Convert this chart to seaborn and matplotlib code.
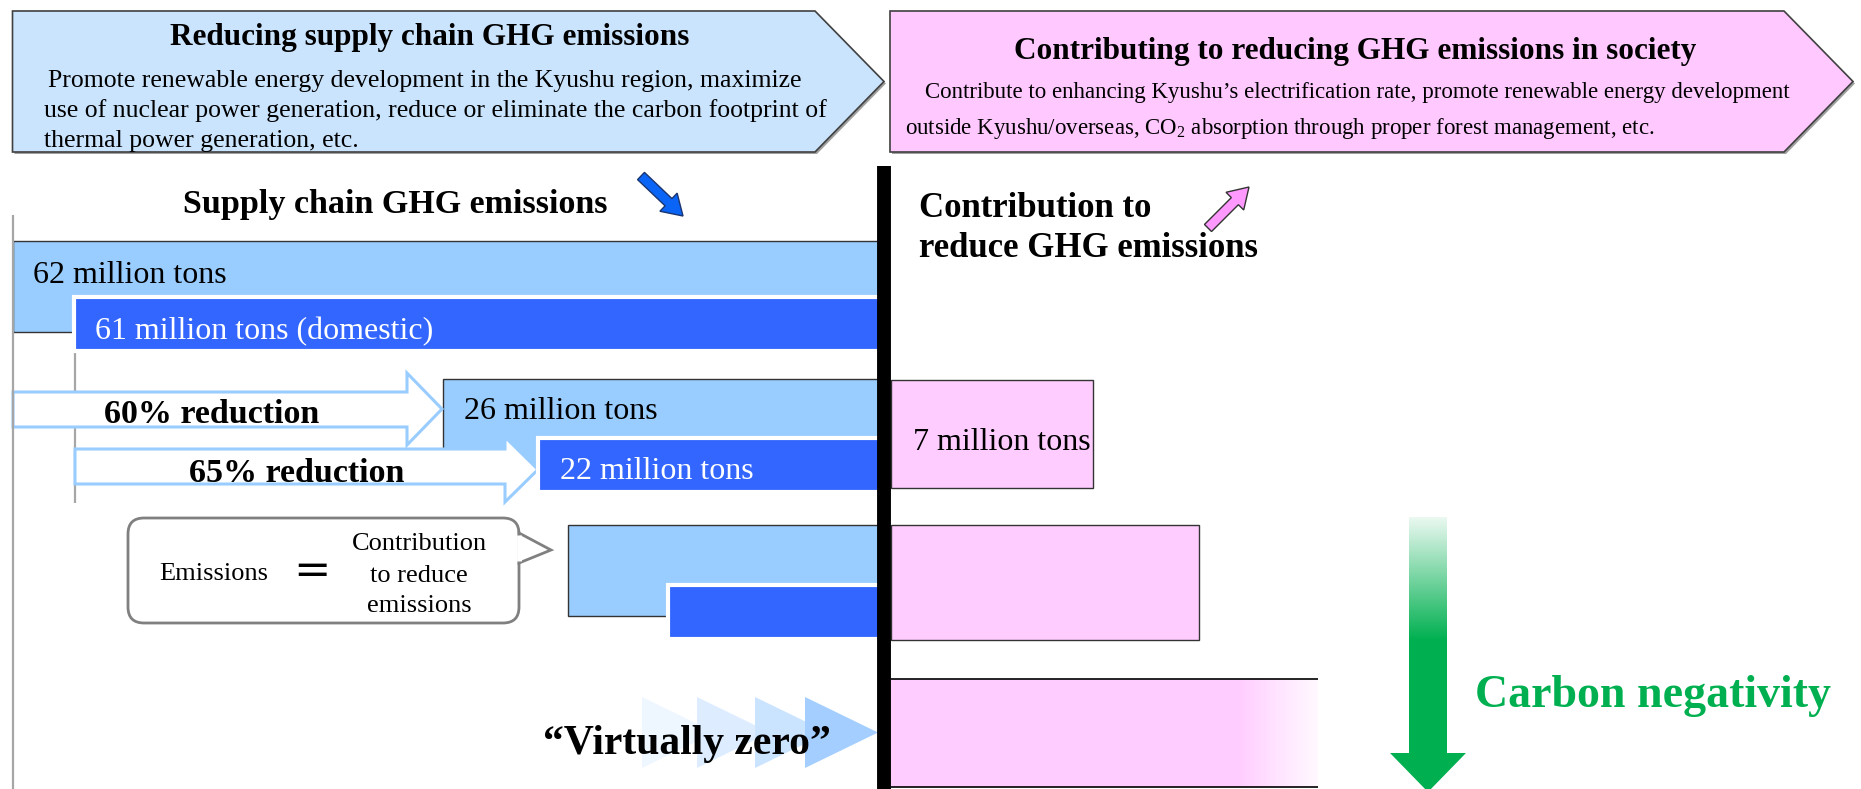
import numpy as np
import matplotlib
matplotlib.use("Agg")
import matplotlib.pyplot as plt
from matplotlib.patches import Polygon, FancyBboxPatch, FancyArrow
import seaborn as sns

sns.set_theme(style="white")
plt.rcParams["font.family"] = ["Liberation Serif", "DejaVu Serif"]
plt.rcParams["text.color"] = "black"
plt.rcParams["mathtext.fontset"] = "custom"
plt.rcParams["mathtext.rm"] = "Liberation Serif"

# ------------------------------------------------------------------ data
banner_titles = ["Reducing supply chain GHG emissions",
                 "Contributing to reducing GHG emissions in society"]
left_banner_lines = [
    "Promote renewable energy development in the Kyushu region, maximize",
    "use of nuclear power generation, reduce or eliminate the carbon footprint of",
    "thermal power generation, etc.",
]
right_banner_lines = [
    "Contribute to enhancing Kyushu\u2019s electrification rate, promote renewable energy development",
    "outside Kyushu/overseas, CO$_2$ absorption through proper forest management, etc.",
]
section_titles = ["Supply chain GHG emissions", "Contribution to\nreduce GHG emissions"]

# supply-chain emission bars (schematic lengths, drawn leftwards from the divider)
supply_labels = ["62 million tons", "61 million tons (domestic)",
                 "26 million tons", "22 million tons", "", ""]
supply_kind = ["total", "domestic", "total", "domestic", "total", "domestic"]
supply_length = [871, 810, 441, 346, 316, 216]

# contribution bars (schematic lengths, drawn rightwards from the divider)
contrib_labels = ["7 million tons", "", ""]
contrib_length = [202, 308, 427]

reduction_labels = ["60% reduction", "65% reduction"]
callout_left = "Emissions"
callout_right = "Contribution\nto reduce\nemissions"
zero_label = "\u201cVirtually zero\u201d"
negative_label = "Carbon negativity"

# ------------------------------------------------------------------ layout
W, H = 1861, 789
divider = 884
supply_rows = [(241, 332), (297, 351), (379, 470), (438, 492), (525, 616), (585, 639)]
contrib_rows = [(380, 488), (525, 640), (679, 787)]

LIGHT = "#99CCFF"
DARK = "#3366FF"
PINK = "#FFCCFF"
GREEN = "#00B050"

fig = plt.figure(figsize=(W / 100, H / 100), dpi=100)
ax = fig.add_axes([0, 0, 1, 1])
ax.set_xlim(0, W)
ax.set_ylim(H, 0)
ax.axis("off")

# ------------------------------------------------------------------ banners
def banner(x0, x1, tip, y0, y1, fc):
    ym = (y0 + y1) / 2
    pts = [(x0, y0), (x1, y0), (tip, ym), (x1, y1), (x0, y1)]
    sh = Polygon([(x + 2, y + 2) for x, y in pts], closed=True, fc="#A0A0A0", ec="none", zorder=1)
    ax.add_patch(sh)
    ax.add_patch(Polygon(pts, closed=True, fc=fc, ec="#404040", lw=1.2, zorder=2))

banner(12.5, 815, 884, 11, 152, "#CAE4FD")
banner(890, 1784, 1853, 11, 152, "#FFC9FF")

ax.text(430, 45, banner_titles[0], ha="center", va="baseline", fontsize=22.5,
        fontweight="bold", zorder=5)
for x, y, s in zip([48, 44, 44], [87, 117, 147], left_banner_lines):
    ax.text(x, y, s, ha="left", va="baseline", fontsize=18.5, zorder=5)

ax.text(1355, 59, banner_titles[1], ha="center", va="baseline", fontsize=22.5,
        fontweight="bold", zorder=5)
for x, y, s in zip([925, 905], [98, 134], right_banner_lines):
    ax.text(x, y, s, ha="left", va="baseline", fontsize=16.5, zorder=5)

# ------------------------------------------------------------------ section titles
ax.text(183, 213, section_titles[0], ha="left", va="baseline", fontsize=24.5,
        fontweight="bold", zorder=5)
t1, t2 = section_titles[1].split("\n")
ax.text(919, 217, t1, ha="left", va="baseline", fontsize=25, fontweight="bold", zorder=5)
ax.text(919, 257, t2, ha="left", va="baseline", fontsize=25, fontweight="bold", zorder=5)

ax.add_patch(FancyArrow(641, 176, 42, 40, width=10, head_width=25, head_length=20,
                        length_includes_head=True, fc="#0A64F5", ec="#1A3570", lw=1, zorder=5))
ax.add_patch(FancyArrow(1208, 228, 41, -41, width=10, head_width=25, head_length=20,
                        length_includes_head=True, fc="#FF99FF", ec="#333333", lw=1, zorder=5))

# ------------------------------------------------------------------ guide lines
ax.vlines(13, 215, H, color="#A6A6A6", lw=1.6, zorder=8)
ax.vlines(75, 295, 503, color="#A6A6A6", lw=1.6, zorder=3)

# ------------------------------------------------------------------ supply bars
for i, (length, kind, (top, bot)) in enumerate(zip(supply_length, supply_kind, supply_rows)):
    if kind == "total":
        ax.barh((top + bot) / 2, length, height=bot - top, left=divider - length,
                color=LIGHT, edgecolor="#333333", linewidth=1.0, zorder=4)
    else:
        ax.barh((top + bot) / 2, length, height=bot - top, left=divider - length,
                color=DARK, edgecolor="white", linewidth=3.0, zorder=6)

label_pos = [(33, 283, "black"), (95, 339, "white"), (464, 419, "black"), (560, 479, "white")]
for (x, y, c), s in zip(label_pos, supply_labels):
    ax.text(x, y, s, ha="left", va="baseline", fontsize=23, color=c, zorder=7)

# ------------------------------------------------------------------ reduction arrows
def block_arrow(x0, base, tip, y0, y1, hy0, hy1):
    ym = (hy0 + hy1) / 2
    pts = [(x0, y0), (base, y0), (base, hy0), (tip, ym), (base, hy1), (base, y1), (x0, y1)]
    ax.add_patch(Polygon(pts, closed=True, fc="white", ec=LIGHT, lw=2.2, zorder=5))

block_arrow(13, 407, 442, 392, 427, 373, 445)
block_arrow(75, 505, 538, 449, 484, 437, 502)
ax.text(104, 423, reduction_labels[0], ha="left", va="baseline", fontsize=24.5,
        fontweight="bold", zorder=7)
ax.text(189, 482, reduction_labels[1], ha="left", va="baseline", fontsize=24.5,
        fontweight="bold", zorder=7)

# ------------------------------------------------------------------ contribution bars
for i, (length, (top, bot)) in enumerate(zip(contrib_length, contrib_rows)):
    if i < 2:
        ax.barh((top + bot) / 2, length, height=bot - top, left=divider + 7,
                color=PINK, edgecolor="#333333", linewidth=1.0, zorder=4)
    else:
        ax.barh((top + bot) / 2, length, height=bot - top, left=divider + 7,
                color=PINK, edgecolor="none", zorder=4)
        x_end = divider + 7 + length
        fade = np.ones((2, 200, 4))
        fade[..., 3] = np.linspace(0, 1, 200) ** 0.9
        ax.imshow(fade, extent=(x_end - 80, x_end + 12, bot + 1, top - 1), origin="upper",
                  aspect="auto", zorder=4.5, interpolation="bilinear")
        ax.hlines([top, bot], divider + 7, x_end, color="black", lw=1.2, zorder=5)

ax.text(913, 450, contrib_labels[0], ha="left", va="baseline", fontsize=23, zorder=7)

# ------------------------------------------------------------------ divider
ax.vlines(divider, 166, H, color="black", lw=10, zorder=9)

# ------------------------------------------------------------------ callout
ax.add_patch(FancyBboxPatch((128, 518), 391, 105, boxstyle="round,pad=0,rounding_size=16",
                            fc="white", ec="#808080", lw=2, zorder=5))
ax.add_patch(Polygon([(519, 533), (551, 550), (519, 563)], closed=True, fc="white",
                     ec="#808080", lw=2, zorder=5))
ax.vlines(519, 535, 561, color="white", lw=3.5, zorder=6)
ax.text(159, 580, callout_left, ha="left", va="baseline", fontsize=19, zorder=7)
ax.text(312, 572, "=", ha="center", va="center", fontsize=32, family="DejaVu Sans", zorder=7)
for y, s in zip([550, 582, 612], callout_right.split("\n")):
    ax.text(419, y, s, ha="center", va="baseline", fontsize=19, zorder=7)

# ------------------------------------------------------------------ virtually zero
tri_colors = ["#EEF6FF", "#DDEDFF", "#CAE3FF", "#A3CEFF"]
for xb, c in zip([642, 697, 755, 805], tri_colors):
    ax.add_patch(Polygon([(xb, 697), (xb + 73, 732.5), (xb, 768)], closed=True,
                         fc=c, ec="none", zorder=3))
ax.text(687, 754, zero_label, ha="center", va="baseline", fontsize=30,
        fontweight="bold", zorder=7)

# ------------------------------------------------------------------ carbon negativity arrow
arrow_pts = [(1409, 517), (1447, 517), (1447, 753), (1466, 753), (1428, 792),
             (1390, 753), (1409, 753)]
clip = Polygon(arrow_pts, closed=True, fc="none", ec="none")
ax.add_patch(clip)
ys = np.linspace(517, 792, 300)
t = np.clip((ys - 517) / (640 - 517), 0, 1)
a = 0.08 + 0.92 * t
g = np.array([0 / 255, 176 / 255, 80 / 255])
col = (1 - a)[:, None] * np.ones(3) + a[:, None] * g
img = np.repeat(col[:, None, :], 2, axis=1)
im = ax.imshow(img, extent=(1388, 1468, 792, 517), origin="upper", aspect="auto",
               zorder=5, interpolation="bilinear")
im.set_clip_path(clip)

ax.text(1475, 707, negative_label, ha="left", va="baseline", fontsize=33,
        fontweight="bold", color=GREEN, zorder=7)

ax.set_xlim(0, W)
ax.set_ylim(H, 0)
fig.savefig("out.png", dpi=100)
